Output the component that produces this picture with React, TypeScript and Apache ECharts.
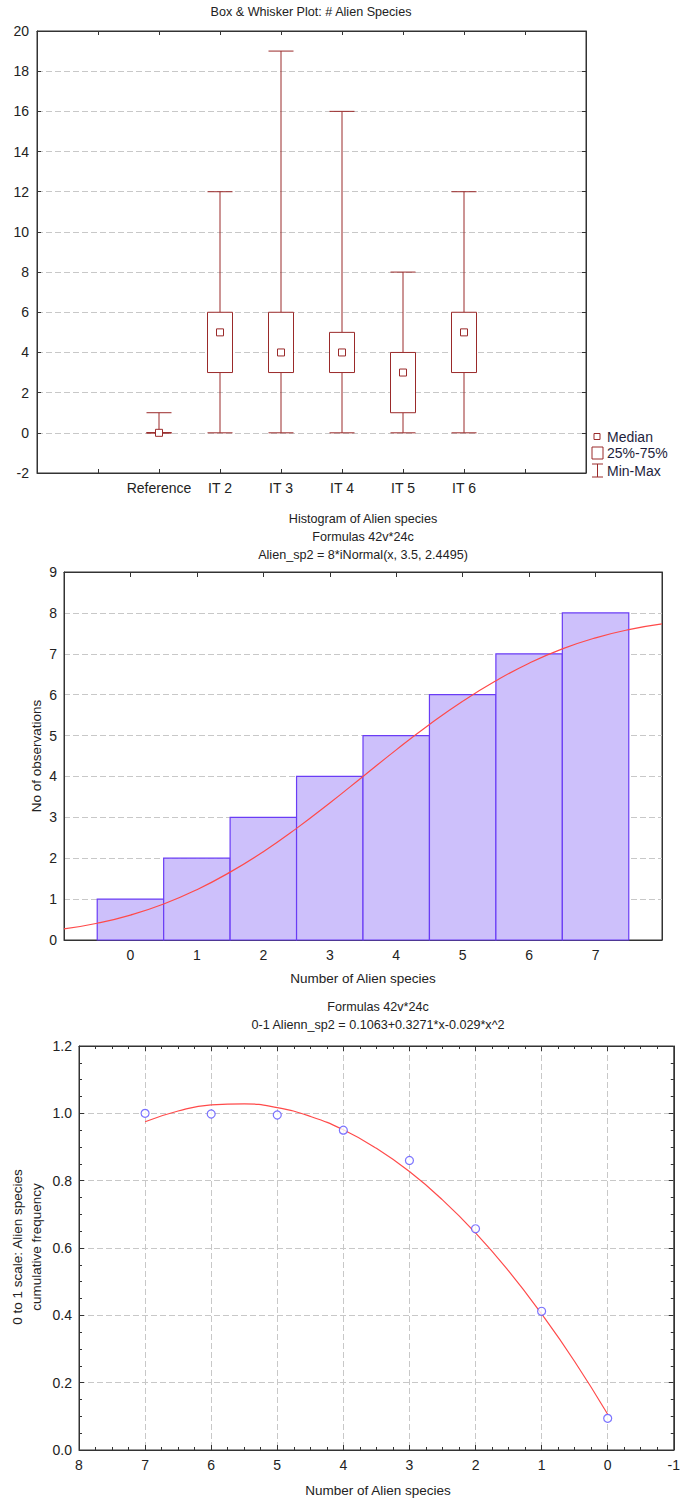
import React, { useEffect, useRef } from "react";
import * as echarts from "echarts";

// ---------- Chart 1: Box & Whisker ----------
const boxAxisCategories = ["", "", "Reference", "IT 2", "IT 3", "IT 4", "IT 5", "IT 6", "", ""];
const boxNames = ["Reference", "IT 2", "IT 3", "IT 4", "IT 5", "IT 6"];
const boxMin = [0, 0, 0, 0, 0, 0];
const boxQ1 = [0, 3, 3, 3, 1, 3];
const boxMedian = [0, 5, 4, 4, 3, 5];
const boxQ3 = [0, 6, 6, 5, 4, 6];
const boxMax = [1, 12, 19, 16, 8, 12];
const boxLegend = ["Median", "25%-75%", "Min-Max"];

// ---------- Chart 2: Histogram ----------
const histBins = [0, 1, 2, 3, 4, 5, 6, 7];
const histCounts = [1, 2, 3, 4, 5, 6, 7, 8];
const normalX = [-1, -0.5, 0, 0.5, 1, 1.5, 2, 2.5, 3, 3.5, 4, 4.5, 5, 5.5, 6, 6.5, 7, 7.5, 8];
const normalY = [0.27, 0.41, 0.61, 0.88, 1.23, 1.66, 2.16, 2.73, 3.35, 4.0, 4.65, 5.27, 5.84, 6.34, 6.77, 7.12, 7.39, 7.59, 7.73];

// ---------- Chart 3: Cumulative frequency ----------
const cumX = [7, 6, 5, 4, 3, 2, 1, 0];
const cumY = [1.0, 0.998, 0.995, 0.95, 0.86, 0.657, 0.412, 0.094];
const fitX = [0, 0.5, 1, 1.5, 2, 2.5, 3, 3.5, 4, 4.5, 5, 5.5, 6, 6.5, 7];
const fitY = [0.106, 0.263, 0.404, 0.532, 0.645, 0.743, 0.827, 0.896, 0.951, 0.991, 1.017, 1.028, 1.025, 1.007, 0.975];

const titles1 = ["Box & Whisker Plot: # Alien Species"];
const titles2 = ["Histogram of Alien species", "Formulas 42v*24c", "Alien_sp2 = 8*iNormal(x, 3.5, 2.4495)"];
const titles3 = ["Formulas 42v*24c", "0-1 Alienn_sp2 = 0.1063+0.3271*x-0.029*x^2"];

const FONT = "Liberation Sans, Arial, sans-serif";
const BOXC = "#9a2a2a";
const AXC = "#333333";
const TXT = "#222222";
const GRIDC = "#c8c8c8";

function textEl(text: string, x: number, y: number, size: number, extra: any = {}) {
  return {
    type: "text",
    x,
    y,
    rotation: extra.rotation || 0,
    silent: true,
    style: {
      text,
      x: 0,
      y: 0,
      fill: extra.fill || TXT,
      font: `${size}px ${FONT}`,
      fontSize: size,
      fontFamily: FONT,
      align: extra.align || "center",
      textAlign: extra.align || "center",
      verticalAlign: "middle",
      textVerticalAlign: "middle",
      lineHeight: extra.lineHeight || size * 1.2,
    },
  };
}

export default function App() {
  const ref = useRef<HTMLDivElement>(null);

  useEffect(() => {
    document.body.style.margin = "0";
    if (!ref.current) return;
    const chart = echarts.init(ref.current, null, { renderer: "svg" });

    const axisLine = { show: true, onZero: false, lineStyle: { color: AXC, width: 1 } };
    const dashed = { show: true, lineStyle: { color: GRIDC, type: [6, 3], width: 1 } };
    const labelStyle = (size: number) => ({ color: TXT, fontSize: size, fontFamily: FONT });

    const grids = [
      { left: 37, top: 31, width: 549, height: 442, show: true, borderColor: AXC, borderWidth: 1 },
      { left: 64, top: 572, width: 598, height: 368, show: true, borderColor: AXC, borderWidth: 1 },
      { left: 79, top: 1046, width: 598, height: 404, show: true, borderColor: AXC, borderWidth: 1 },
    ];

    const boxData = boxNames.map((n, i) => [n, boxMin[i], boxQ1[i], boxMedian[i], boxQ3[i], boxMax[i]]);
    const histData = histBins.map((b, i) => [b, histCounts[i]]);

    const option: any = {
      animation: false,
      backgroundColor: "#ffffff",
      grid: grids,
      xAxis: [
        {
          gridIndex: 0, type: "category", data: boxAxisCategories, boundaryGap: false,
          axisLine, axisTick: { show: true, inside: true, length: 4, interval: 0, lineStyle: { color: AXC } },
          axisLabel: { ...labelStyle(14), interval: 0, margin: 8 }, splitLine: { show: false },
        },
        {
          gridIndex: 0, type: "category", position: "top", data: boxAxisCategories, boundaryGap: false,
          axisLine, axisTick: { show: true, inside: true, length: 4, interval: 0, lineStyle: { color: AXC } },
          axisLabel: { show: false }, splitLine: { show: false },
        },
        {
          gridIndex: 1, type: "value", min: -1, max: 8, interval: 1,
          axisLine, axisTick: { show: true, inside: true, length: 5, lineStyle: { color: AXC } },
          axisLabel: { ...labelStyle(14), margin: 8, formatter: (v: number) => (v < 0 || v > 7 ? "" : String(v)) },
          splitLine: { show: false },
        },
        {
          gridIndex: 1, type: "value", position: "top", min: -1, max: 8, interval: 1,
          axisLine, axisTick: { show: true, inside: true, length: 5, lineStyle: { color: AXC } },
          axisLabel: { show: false }, splitLine: { show: false },
        },
        {
          gridIndex: 2, type: "value", min: -1, max: 8, interval: 1, inverse: true,
          axisLine, axisTick: { show: true, inside: true, length: 5, lineStyle: { color: AXC } },
          minorTick: { show: true, splitNumber: 4, length: 3, lineStyle: { color: AXC } },
          axisLabel: { ...labelStyle(14), margin: 8, showMinLabel: true, showMaxLabel: true },
          splitLine: dashed,
        },
        {
          gridIndex: 2, type: "value", position: "top", min: -1, max: 8, interval: 1, inverse: true,
          axisLine, axisTick: { show: true, inside: true, length: 5, lineStyle: { color: AXC } },
          minorTick: { show: true, splitNumber: 4, length: 3, lineStyle: { color: AXC } },
          axisLabel: { show: false }, splitLine: { show: false },
        },
      ],
      yAxis: [
        {
          gridIndex: 0, type: "value", min: -2, max: 20, interval: 2,
          axisLine, axisTick: { show: true, inside: true, length: 4, lineStyle: { color: AXC } },
          axisLabel: { ...labelStyle(14), margin: 8 }, splitLine: dashed,
        },
        {
          gridIndex: 0, type: "value", position: "right", min: -2, max: 20, interval: 2,
          axisLine, axisTick: { show: true, inside: true, length: 4, lineStyle: { color: AXC } },
          axisLabel: { show: false }, splitLine: { show: false },
        },
        {
          gridIndex: 1, type: "value", min: 0, max: 9, interval: 1,
          axisLine, axisTick: { show: false },
          axisLabel: { ...labelStyle(14), margin: 7 }, splitLine: dashed,
        },
        {
          gridIndex: 1, type: "value", position: "right", min: 0, max: 9, interval: 1,
          axisLine, axisTick: { show: false }, axisLabel: { show: false }, splitLine: { show: false },
        },
        {
          gridIndex: 2, type: "value", min: 0, max: 1.2, interval: 0.2,
          axisLine, axisTick: { show: true, inside: true, length: 5, lineStyle: { color: AXC } },
          minorTick: { show: true, splitNumber: 4, length: 3, lineStyle: { color: AXC } },
          axisLabel: { ...labelStyle(14), margin: 7, formatter: (v: number) => v.toFixed(1) },
          splitLine: dashed,
        },
        {
          gridIndex: 2, type: "value", position: "right", min: 0, max: 1.2, interval: 0.2,
          axisLine, axisTick: { show: true, inside: true, length: 5, lineStyle: { color: AXC } },
          minorTick: { show: true, splitNumber: 4, length: 3, lineStyle: { color: AXC } },
          axisLabel: { show: false }, splitLine: { show: false },
        },
      ],
      series: [
        {
          type: "custom",
          xAxisIndex: 0,
          yAxisIndex: 0,
          encode: { x: 0, y: [1, 2, 3, 4, 5] },
          data: boxData,
          z: 5,
          renderItem: (params: any, api: any) => {
            const x = api.value(0);
            const lo = api.coord([x, api.value(1)]);
            const q1 = api.coord([x, api.value(2)]);
            const md = api.coord([x, api.value(3)]);
            const q3 = api.coord([x, api.value(4)]);
            const hi = api.coord([x, api.value(5)]);
            const hw = 12.5;
            const ms = 3.5;
            const ls = { stroke: BOXC, lineWidth: 1, fill: null };
            return {
              type: "group",
              children: [
                { type: "line", shape: { x1: hi[0], y1: hi[1], x2: q3[0], y2: q3[1] }, style: ls },
                { type: "line", shape: { x1: lo[0], y1: lo[1], x2: q1[0], y2: q1[1] }, style: ls },
                { type: "line", shape: { x1: hi[0] - hw, y1: hi[1], x2: hi[0] + hw, y2: hi[1] }, style: ls },
                { type: "line", shape: { x1: lo[0] - hw, y1: lo[1], x2: lo[0] + hw, y2: lo[1] }, style: ls },
                {
                  type: "rect",
                  shape: { x: q3[0] - hw, y: q3[1], width: hw * 2, height: q1[1] - q3[1] },
                  style: { stroke: BOXC, lineWidth: 1, fill: "#ffffff" },
                },
                {
                  type: "rect",
                  shape: { x: md[0] - ms, y: md[1] - ms, width: ms * 2, height: ms * 2 },
                  style: { stroke: BOXC, lineWidth: 1, fill: "#ffffff" },
                },
              ],
            };
          },
        },
        {
          type: "custom",
          xAxisIndex: 2,
          yAxisIndex: 2,
          encode: { x: 0, y: 1 },
          data: histData,
          z: 3,
          renderItem: (params: any, api: any) => {
            const x = api.value(0);
            const v = api.value(1);
            const p1 = api.coord([x - 0.5, v]);
            const p2 = api.coord([x + 0.5, 0]);
            return {
              type: "rect",
              shape: { x: p1[0], y: p1[1], width: p2[0] - p1[0], height: p2[1] - p1[1] },
              style: { fill: "#cdc0fb", stroke: "#6a3cf5", lineWidth: 1.2 },
            };
          },
        },
        {
          type: "line",
          xAxisIndex: 2,
          yAxisIndex: 2,
          data: normalX.map((x, i) => [x, normalY[i]]),
          smooth: true,
          showSymbol: false,
          symbol: "none",
          z: 6,
          lineStyle: { color: "#ff4a4a", width: 1.2 },
        },
        {
          type: "line",
          xAxisIndex: 4,
          yAxisIndex: 4,
          data: fitX.map((x, i) => [x, fitY[i]]),
          smooth: true,
          showSymbol: false,
          symbol: "none",
          z: 5,
          lineStyle: { color: "#ff4a4a", width: 1.2 },
        },
        {
          type: "scatter",
          xAxisIndex: 4,
          yAxisIndex: 4,
          data: cumX.map((x, i) => [x, cumY[i]]),
          symbol: "circle",
          symbolSize: 8,
          z: 7,
          itemStyle: { color: "#ffffff", borderColor: "#5a50ff", borderWidth: 1.2 },
        },
      ],
      graphic: [
        textEl(titles1[0], 311, 12, 12.6),
        ...titles2.map((t, i) => textEl(t, 363, 519 + i * 18, 12.6)),
        ...titles3.map((t, i) => textEl(t, 378, 1007 + i * 18, 12.6)),
        // axis names
        textEl("No of observations", 36, 756, 13.5, { rotation: Math.PI / 2 }),
        textEl("Number of Alien species", 363, 978, 13.5),
        textEl("0 to 1 scale: Alien species\ncumulative frequency", 27, 1247, 13.5, { rotation: Math.PI / 2, lineHeight: 19 }),
        textEl("Number of Alien species", 378, 1490, 13.5),
        // legend
        {
          type: "rect", silent: true,
          shape: { x: 594, y: 433.5, width: 6, height: 6 },
          style: { fill: "#ffffff", stroke: BOXC, lineWidth: 1 },
        },
        {
          type: "rect", silent: true,
          shape: { x: 592, y: 447, width: 11, height: 12 },
          style: { fill: "#ffffff", stroke: BOXC, lineWidth: 1 },
        },
        { type: "line", silent: true, shape: { x1: 597.5, y1: 464, x2: 597.5, y2: 477 }, style: { stroke: BOXC, lineWidth: 1 } },
        { type: "line", silent: true, shape: { x1: 592, y1: 464, x2: 603, y2: 464 }, style: { stroke: BOXC, lineWidth: 1 } },
        { type: "line", silent: true, shape: { x1: 592, y1: 477, x2: 603, y2: 477 }, style: { stroke: BOXC, lineWidth: 1 } },
        textEl(boxLegend[0], 607, 437, 14, { align: "left", fill: "#1e1e3c" }),
        textEl(boxLegend[1], 607, 453, 14, { align: "left", fill: "#1e1e3c" }),
        textEl(boxLegend[2], 607, 471, 14, { align: "left", fill: "#1e1e3c" }),
      ],
    };

    chart.setOption(option);
    return () => {
      chart.dispose();
    };
  }, []);

  return <div ref={ref} style={{ width: 683, height: 1500 }} />;
}
